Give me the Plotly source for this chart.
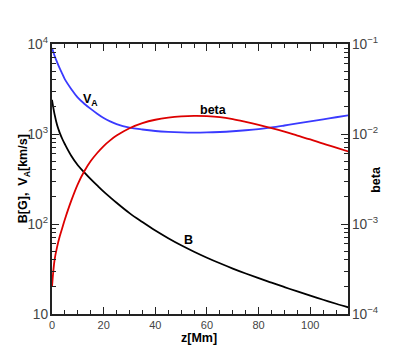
import plotly.graph_objects as go

z = [0, 1, 2, 3, 4, 5, 7.5, 10, 12.5, 15, 17.5, 20, 22.5, 25, 30, 35, 40, 45, 50,
     55, 60, 65, 70, 75, 80, 85, 90, 95, 100, 105, 110, 115]

B = [2400, 1650, 1250, 1030, 880, 770, 570, 450, 375, 315, 268, 229, 198, 172, 132,
     105, 84.5, 69.5, 58, 49.2, 42.2, 36.6, 32, 28.2, 25, 22.3, 19.9, 17.8, 16, 14.4, 13.0, 11.8]

VA = [9000, 7410, 6240, 5350, 4660, 4050, 3150, 2530, 2170, 1900, 1680, 1505, 1380, 1290,
      1180, 1122, 1080, 1055, 1040, 1035, 1040, 1053, 1073, 1100, 1135, 1183, 1243, 1310,
      1380, 1455, 1535, 1620]

beta = [2.0e-4, 4.0e-4, 5.6e-4, 7.3e-4, 9.1e-4, 1.13e-3, 1.83e-3, 2.78e-3, 3.85e-3, 5.0e-3,
        6.15e-3, 7.35e-3, 8.5e-3, 9.6e-3, 1.16e-2, 1.32e-2, 1.44e-2, 1.52e-2, 1.57e-2,
        1.59e-2, 1.58e-2, 1.54e-2, 1.46e-2, 1.36e-2, 1.26e-2, 1.16e-2, 1.06e-2, 9.6e-3,
        8.7e-3, 7.8e-3, 7.05e-3, 6.35e-3]

x_ticks = [0, 20, 40, 60, 80, 100]

FONT = "Liberation Sans, Arial, sans-serif"
AX = "#222222"

fig = go.Figure()
fig.add_trace(go.Scatter(x=z, y=VA, mode="lines", line=dict(color="#3a3aff", width=1.8, shape="spline"),
                         yaxis="y", showlegend=False))
fig.add_trace(go.Scatter(x=z, y=B, mode="lines", line=dict(color="black", width=1.8, shape="spline"),
                         yaxis="y", showlegend=False))
fig.add_trace(go.Scatter(x=z, y=beta, mode="lines", line=dict(color="#dd0000", width=1.8, shape="spline"),
                         yaxis="y2", showlegend=False))

fig.update_layout(
    width=383, height=339,
    margin=dict(l=44, r=41, t=36, b=33),
    paper_bgcolor="white", plot_bgcolor="white",
    font=dict(family=FONT, size=11, color="#444444"),
    xaxis=dict(range=[0, 114.6], tickvals=x_ticks, ticks="inside", ticklen=7, tickwidth=1.2,
               tickcolor=AX, showline=True, linecolor=AX, linewidth=1.5, mirror="ticks",
               showgrid=False, zeroline=False,
               minor=dict(ticks="inside", dtick=5, ticklen=4, tickcolor=AX, tickwidth=1, showgrid=False)),
    yaxis=dict(type="log", range=[1, 4], dtick=1, exponentformat="power", ticks="inside",
               ticklen=7, tickwidth=1.2, tickcolor=AX, showline=True, linecolor=AX, linewidth=1.5,
               showgrid=False, zeroline=False,
               minor=dict(ticks="inside", dtick="D1", ticklen=4, tickcolor=AX, tickwidth=1, showgrid=False)),
    yaxis2=dict(type="log", range=[-4, -1], dtick=1, exponentformat="power", overlaying="y",
                side="right", ticks="inside", ticklen=7, tickwidth=1.2, tickcolor=AX, showline=True,
                linecolor=AX, linewidth=1.5, showgrid=False, zeroline=False,
                minor=dict(ticks="inside", dtick="D1", ticklen=4, tickcolor=AX, tickwidth=1, showgrid=False)),
)

title_font = dict(family=FONT, size=12.5, color="black")
fig.add_annotation(text="<b>B[G],  V<sub>A</sub>[km/s]</b>", xref="paper", yref="paper",
                   x=-0.094, y=0.5, textangle=-90, showarrow=False, font=title_font,
                   xanchor="center", yanchor="middle")
fig.add_annotation(text="<b>beta</b>", xref="paper", yref="paper",
                   x=1.094, y=0.5, textangle=-90, showarrow=False, font=title_font,
                   xanchor="center", yanchor="middle")
fig.add_annotation(text="<b>z[Mm]</b>", xref="paper", yref="paper",
                   x=0.497, y=-0.09, showarrow=False, font=title_font,
                   xanchor="center", yanchor="middle")

lab_font = dict(family=FONT, size=12.5, color="black")
fig.add_annotation(text="<b>V<sub>A</sub></b>", x=15, y=3.38, xref="x", yref="y",
                   showarrow=False, font=lab_font)
fig.add_annotation(text="<b>beta</b>", x=62.6, y=3.27, xref="x", yref="y",
                   showarrow=False, font=lab_font)
fig.add_annotation(text="<b>B</b>", x=53, y=1.82, xref="x", yref="y",
                   showarrow=False, font=lab_font)

fig.write_html("out.html")
